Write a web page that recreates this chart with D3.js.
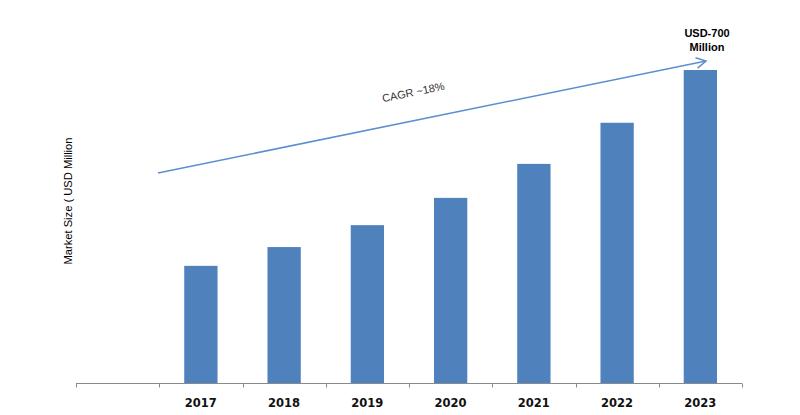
<!DOCTYPE html>
<html><head><meta charset="utf-8">
<script src="https://cdn.jsdelivr.net/npm/d3@7"></script>
<style>body{margin:0;background:#fff}svg{display:block}</style>
</head><body>
<svg id="c" width="800" height="415"></svg>
<script>
const categories = ["", "2017", "2018", "2019", "2020", "2021", "2022", "2023"];
const years = ["2017", "2018", "2019", "2020", "2021", "2022", "2023"];
const values = [262, 304, 353, 414, 490, 582, 700];
const yAxisTitle = "Market Size ( USD Million";
const cagrLabel = "CAGR ~18%";
const topLabel = ["USD-700", "Million"];

const svg = d3.select("#c");
const x = d3.scaleBand().domain(categories).range([76, 742]).padding(0);
const y = d3.scaleLinear().domain([0, 700]).range([383, 70]);
const bw = x.bandwidth() * 0.4;

svg.append("g").selectAll("rect").data(years).join("rect")
  .attr("x", (d) => x(d) + (x.bandwidth() - bw) / 2)
  .attr("y", (d, i) => y(values[i]))
  .attr("width", bw)
  .attr("height", (d, i) => y(0) - y(values[i]))
  .attr("fill", "#4F81BD");

// axis
const ax = svg.append("g").attr("transform", "translate(0,383.5)");
ax.append("line").attr("x1", 76).attr("x2", 742).attr("stroke", "#8a8a8a").attr("stroke-width", 1);
const tickPos = categories.map(c => x(c)).concat([x.range()[1]]);
ax.selectAll("line.t").data(tickPos).join("line").attr("class", "t")
  .attr("x1", d => Math.round(d) + 0.5).attr("x2", d => Math.round(d) + 0.5)
  .attr("y1", 0).attr("y2", 4).attr("stroke", "#8a8a8a");
ax.selectAll("text").data(years).join("text")
  .attr("x", d => x(d) + x.bandwidth() / 2)
  .attr("y", 23)
  .attr("text-anchor", "middle")
  .attr("font-family", "DejaVu Sans")
  .attr("font-weight", "bold")
  .attr("font-size", 11.5)
  .attr("fill", "#111")
  .text(d => d);

// y title
svg.append("text")
  .attr("transform", "translate(72,201) rotate(-90)")
  .attr("text-anchor", "middle")
  .attr("font-family", "Liberation Sans, Arial")
  .attr("font-size", 11)
  .attr("fill", "#000")
  .attr("textLength", 127)
  .attr("lengthAdjust", "spacingAndGlyphs")
  .text(yAxisTitle);

// arrow
const ax0 = 158, ay0 = 173, ax1 = 706, ay1 = 61;
svg.append("line").attr("x1", ax0).attr("y1", ay0).attr("x2", ax1).attr("y2", ay1)
  .attr("stroke", "#5b8fd0").attr("stroke-width", 1.5);
const ang = Math.atan2(ay1 - ay0, ax1 - ax0);
const hl = 11, ha = 0.5;
svg.append("path")
  .attr("d", `M${ax1 - hl * Math.cos(ang - ha)},${ay1 - hl * Math.sin(ang - ha)} L${ax1},${ay1} L${ax1 - hl * Math.cos(ang + ha)},${ay1 - hl * Math.sin(ang + ha)}`)
  .attr("fill", "none").attr("stroke", "#5b8fd0").attr("stroke-width", 1.5);

svg.append("text")
  .attr("transform", `translate(414,96) rotate(${ang * 180 / Math.PI})`)
  .attr("text-anchor", "middle")
  .attr("font-family", "Liberation Sans, Arial")
  .attr("font-size", 11)
  .attr("fill", "#333")
  .text(cagrLabel);

svg.append("g").selectAll("text").data(topLabel).join("text")
  .attr("x", 707).attr("y", (d, i) => 37 + i * 13.5)
  .attr("text-anchor", "middle")
  .attr("font-family", "Liberation Sans, Arial")
  .attr("font-weight", "bold")
  .attr("font-size", 11)
  .attr("fill", "#000")
  .text(d => d);
</script>
</body></html>
